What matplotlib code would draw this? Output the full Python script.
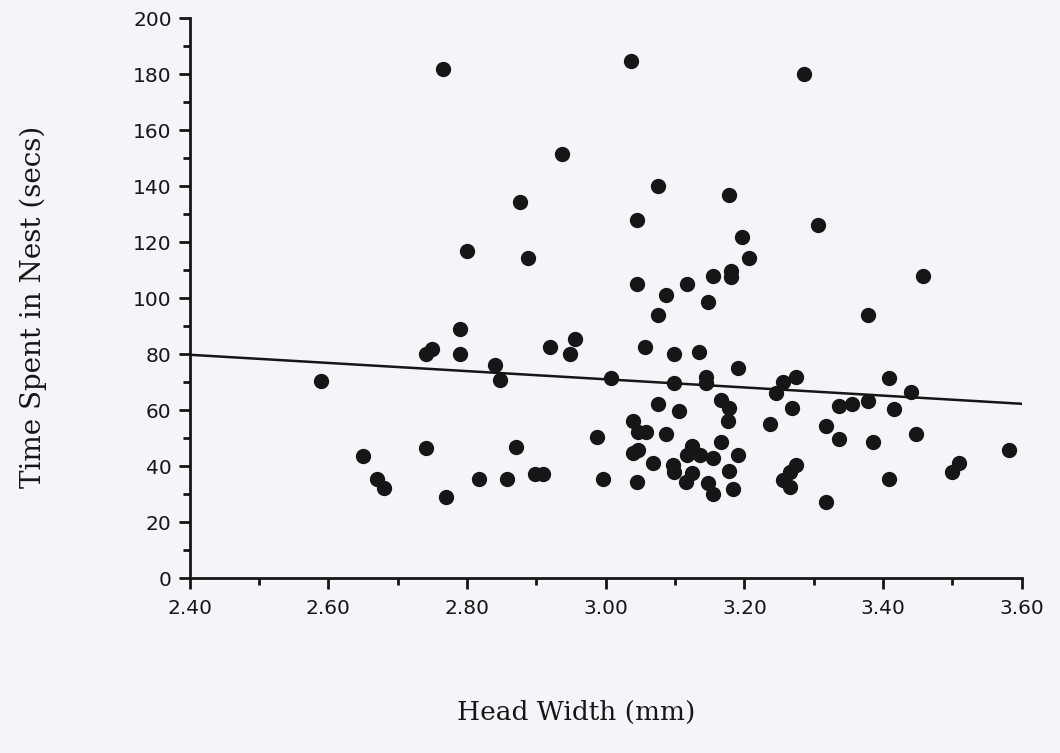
import matplotlib
matplotlib.use('Agg')
import matplotlib.pyplot as plt
from matplotlib.ticker import MultipleLocator, FormatStrFormatter
import numpy as np

# head width (mm) and time spent in nest (secs)
head_width = [2.59, 2.65, 2.67, 2.68, 2.74, 2.75, 2.74, 2.77, 2.765, 2.79,
              2.79, 2.80, 2.817, 2.84, 2.847, 2.858, 2.87, 2.877, 2.888, 2.898,
              2.910, 2.919, 2.937, 2.948, 2.956, 2.987, 2.996, 3.008, 3.037, 3.039,
              3.039, 3.045, 3.045, 3.045, 3.047, 3.047, 3.057, 3.058, 3.068, 3.075,
              3.075, 3.075, 3.087, 3.087, 3.097, 3.098, 3.098, 3.098, 3.106, 3.116,
              3.117, 3.117, 3.124, 3.125, 3.135, 3.136, 3.145, 3.145, 3.147, 3.147,
              3.154, 3.154, 3.154, 3.166, 3.166, 3.177, 3.178, 3.176, 3.177, 3.18,
              3.18, 3.184, 3.191, 3.191, 3.196, 3.207, 3.237, 3.246, 3.256, 3.256,
              3.266, 3.266, 3.268, 3.275, 3.275, 3.286, 3.306, 3.317, 3.317, 3.336,
              3.337, 3.355, 3.378, 3.378, 3.385, 3.409, 3.409, 3.416, 3.440, 3.447,
              3.458, 3.500, 3.509, 3.582]
time_nest = [70.4, 43.7, 35.4, 32.4, 79.9, 81.7, 46.5, 28.9, 181.8, 89.1,
             79.9, 117, 35.4, 76.3, 70.7, 35.4, 46.8, 134.5, 114.2, 37.3,
             37.3, 82.7, 151.6, 79.9, 85.3, 50.4, 35.4, 71.6, 184.7, 56,
             44.7, 128, 105, 34.5, 52.4, 45.9, 82.7, 52.1, 41.1, 140,
             94, 62.4, 101.2, 51.5, 40.5, 38.1, 79.9, 69.8, 59.6, 34.5,
             105, 44.1, 47.1, 37.7, 80.8, 44.1, 71.9, 69.8, 98.7, 34.2,
             107.8, 42.9, 30, 63.6, 48.5, 136.9, 60.8, 56, 38.4, 109.7,
             107.5, 31.8, 75.2, 44.1, 121.8, 114.2, 55.1, 66.2, 70, 35.1,
             38.1, 32.7, 60.8, 71.9, 40.5, 180, 126.3, 54.2, 27.4, 61.4,
             49.7, 62.4, 94, 63.4, 48.5, 71.6, 35.5, 60.6, 66.4, 51.5,
             107.8, 38.1, 41.1, 45.9]

# fitted line as printed
fit_x = [2.40, 3.60]
fit_y = [79.8, 62.3]

paper = '#f4f4f9'
ink = '#161616'

fig = plt.figure(figsize=(10.6, 7.53), dpi=100, facecolor=paper)
ax = fig.add_axes([0.179, 0.232, 0.785, 0.744])
ax.set_facecolor(paper)

ax.plot(head_width, time_nest, 'o', ms=10, color=ink, mec=ink, zorder=3, clip_on=False)
ax.plot(fit_x, fit_y, color=ink, lw=1.8, zorder=2)

ax.set_xlim(2.40, 3.60)
ax.set_ylim(0, 200)
ax.xaxis.set_major_locator(MultipleLocator(0.2))
ax.xaxis.set_minor_locator(MultipleLocator(0.1))
ax.yaxis.set_major_locator(MultipleLocator(20))
ax.yaxis.set_minor_locator(MultipleLocator(10))
ax.xaxis.set_major_formatter(FormatStrFormatter('%.2f'))

for s in ['top', 'right']:
    ax.spines[s].set_visible(False)
for s in ['left', 'bottom']:
    ax.spines[s].set_linewidth(2.0)
    ax.spines[s].set_color(ink)

ax.tick_params(which='major', direction='out', length=8, width=2.0, color=ink,
               labelsize=14.5, labelcolor=ink)
ax.tick_params(axis='x', which='major', pad=7)
ax.tick_params(axis='y', which='major', pad=5)
ax.tick_params(which='minor', direction='out', length=5, width=2.0, color=ink)
for lab in ax.get_xticklabels() + ax.get_yticklabels():
    lab.set_fontfamily('DejaVu Sans')

ax.set_xlabel('Head Width (mm)', fontsize=19, family='DejaVu Serif', color=ink)
ax.set_ylabel('Time Spent in Nest (secs)', fontsize=20, family='DejaVu Serif', color=ink)
ax.xaxis.set_label_coords(0.465, -0.217)
ax.yaxis.set_label_coords(-0.172, 0.484)

plt.savefig('out.png', dpi=100, facecolor=paper)
plt.close()
